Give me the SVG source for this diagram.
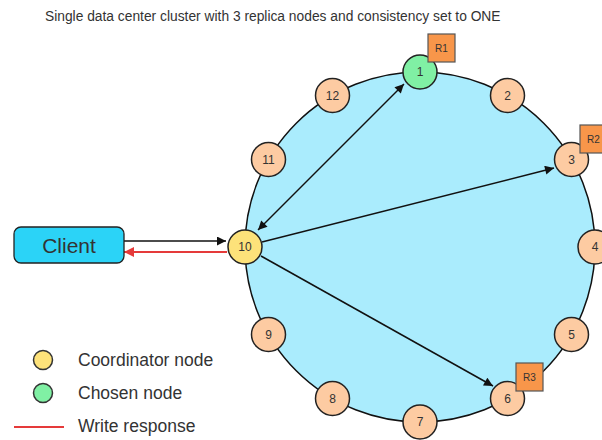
<svg xmlns="http://www.w3.org/2000/svg" width="602" height="440" viewBox="0 0 602 440">
<style>
.t{font-family:"Liberation Sans",Arial,sans-serif;fill:#333}
.node circle{fill:#fdcba2;stroke:#222;stroke-width:1.5}
.node text{font-family:"Liberation Sans",Arial,sans-serif;font-size:12px;fill:#333;text-anchor:middle;dominant-baseline:central}
.rep rect{fill:#f8964a;stroke:#555;stroke-width:1.2}
.rep text{font-family:"Liberation Sans",Arial,sans-serif;font-size:10px;fill:#333;text-anchor:middle;dominant-baseline:central}
.conn{stroke:#111;stroke-width:1.5;fill:none}
.resp{stroke:#e53a3a;stroke-width:2;fill:none}
</style>
<defs>
<marker id="ahb" viewBox="0 0 10 10" refX="10" refY="5" markerWidth="10" markerHeight="9" markerUnits="userSpaceOnUse" orient="auto-start-reverse"><path d="M0,0 L10,5 L0,10 z" fill="#111"/></marker>
<marker id="ahr" viewBox="0 0 10 10" refX="10" refY="5" markerWidth="11" markerHeight="10" markerUnits="userSpaceOnUse" orient="auto"><path d="M0,0 L10,5 L0,10 z" fill="#e53a3a"/></marker>
</defs>
<text class="t" x="45" y="21" font-size="13.8">Single data center cluster with 3 replica nodes and consistency set to ONE</text>
<g id="ring"><circle cx="420" cy="247" r="175" fill="#aaecfd" stroke="#111" stroke-width="1.5"/></g>
<g id="connectors">
<line class="conn" x1="124" y1="241" x2="226" y2="241" marker-end="url(#ahb)"/>
<line class="resp" x1="227" y1="252" x2="124" y2="252" marker-end="url(#ahr)"/>
<line class="conn" x1="258" y1="230" x2="404" y2="84" marker-start="url(#ahb)" marker-end="url(#ahb)"/>
<line class="conn" x1="262" y1="242" x2="554" y2="168" marker-end="url(#ahb)"/>
<line class="conn" x1="261" y1="256" x2="493" y2="386" marker-end="url(#ahb)"/>
</g>
<g id="client"><rect x="14" y="227" width="110" height="36" rx="7" fill="#2bd3f7" stroke="#222" stroke-width="1.3"/><text class="t" x="69" y="252.5" font-size="21" text-anchor="middle" fill="#111">Client</text></g>
<g id="n1" class="node"><circle cx="420" cy="72" r="17" style="fill:#80f0a4"/><text x="420" y="72">1</text></g>
<g id="n2" class="node"><circle cx="507.5" cy="95.5" r="17"/><text x="507.5" y="95.5">2</text></g>
<g id="n3" class="node"><circle cx="571.5" cy="159.5" r="17"/><text x="571.5" y="159.5">3</text></g>
<g id="n4" class="node"><circle cx="595" cy="247" r="17"/><text x="595" y="247">4</text></g>
<g id="n5" class="node"><circle cx="571.5" cy="334.5" r="17"/><text x="571.5" y="334.5">5</text></g>
<g id="n6" class="node"><circle cx="507.5" cy="398.5" r="17"/><text x="507.5" y="398.5">6</text></g>
<g id="n7" class="node"><circle cx="420" cy="422" r="17"/><text x="420" y="422">7</text></g>
<g id="n8" class="node"><circle cx="332.5" cy="398.5" r="17"/><text x="332.5" y="398.5">8</text></g>
<g id="n9" class="node"><circle cx="268.5" cy="334.5" r="17"/><text x="268.5" y="334.5">9</text></g>
<g id="n10" class="node"><circle cx="245" cy="247" r="17" style="fill:#fde27a"/><text x="245" y="247">10</text></g>
<g id="n11" class="node"><circle cx="268.5" cy="159.5" r="17"/><text x="268.5" y="159.5">11</text></g>
<g id="n12" class="node"><circle cx="332.5" cy="95.5" r="17"/><text x="332.5" y="95.5">12</text></g>
<g id="r1" class="rep"><rect x="428" y="34" width="27" height="28"/><text x="441.5" y="48">R1</text></g>
<g id="r2" class="rep"><rect x="580" y="125" width="27" height="28"/><text x="593.5" y="139">R2</text></g>
<g id="r3" class="rep"><rect x="516" y="363" width="27" height="28"/><text x="529.5" y="377">R3</text></g>
<g id="legend">
<circle cx="43" cy="360" r="9.5" fill="#fde27a" stroke="#333" stroke-width="1.5"/>
<text class="t" x="78" y="366" font-size="17.5" fill="#444">Coordinator node</text>
<circle cx="43" cy="393" r="9.5" fill="#80f0a4" stroke="#333" stroke-width="1.5"/>
<text class="t" x="78" y="399" font-size="17.5" fill="#444">Chosen node</text>
<line class="resp" x1="14" y1="427" x2="64" y2="427"/>
<text class="t" x="78" y="432" font-size="17.5" fill="#444">Write response</text>
</g>
</svg>
